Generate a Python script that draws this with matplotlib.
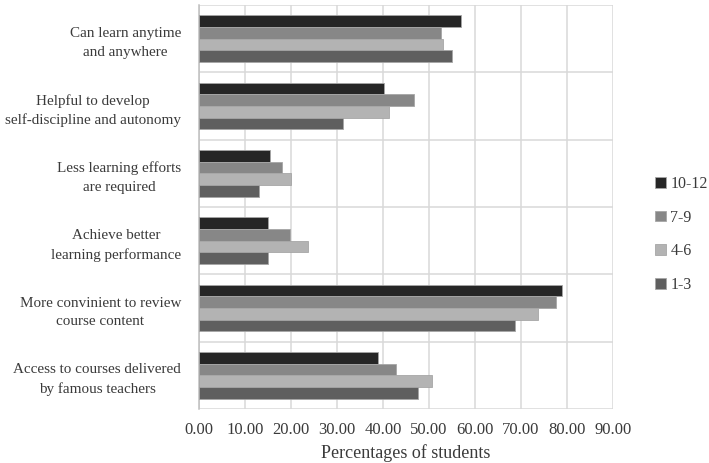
import matplotlib
matplotlib.use("Agg")
import matplotlib.pyplot as plt
import numpy as np

categories = [
    "Can learn anytime\nand anywhere",
    "Helpful to develop\nself-discipline and autonomy",
    "Less learning efforts\nare required",
    "Achieve better\nlearning performance",
    "More convinient to review\ncourse content",
    "Access to courses delivered\nby famous teachers",
]
series_names = ["10-12", "7-9", "4-6", "1-3"]
v_10_12 = [57.0, 40.3, 15.4, 14.9, 78.9, 39.0]
v_7_9 = [52.6, 46.8, 18.0, 19.7, 77.7, 42.8]
v_4_6 = [53.1, 41.3, 19.9, 23.7, 73.6, 50.6]
v_1_3 = [55.0, 31.4, 13.1, 15.1, 68.8, 47.7]
series_values = [v_10_12, v_7_9, v_4_6, v_1_3]
colors = ["#262626", "#878787", "#b3b3b3", "#5f5f5f"]
xticks = [0, 10, 20, 30, 40, 50, 60, 70, 80, 90]

plt.rcParams["font.family"] = ["Liberation Serif", "DejaVu Serif"]
text_color = "#3a3a3a"

fig = plt.figure(figsize=(7.09, 4.63), dpi=100)
ax = fig.add_axes([0.2807, 0.1166, 0.8646 - 0.2807, 0.989 - 0.1166])

y = np.arange(len(categories))
h = 0.173
for i, (name, vals, c) in enumerate(zip(series_names, series_values, colors)):
    ax.barh(y + (i - 1.5) * h, vals, height=h, color=c, edgecolor="#a6a6a6",
            linewidth=0.6, label=name, zorder=3)

ax.set_xlim(0, 90)
ax.set_ylim(len(categories) - 0.5, -0.5)
ax.set_xticks(xticks)
ax.set_xticklabels([f"{t:.2f}" for t in xticks], fontsize=12, color=text_color)
ax.set_yticks(y)
ax.set_yticklabels(categories, fontsize=10.9, color=text_color,
                   multialignment="center", linespacing=1.55)
ax.tick_params(axis="x", length=0, pad=9)
ax.tick_params(axis="y", length=0, pad=13)

ax.grid(axis="x", color="#d9d9d9", linewidth=1.1, zorder=0)
for b in np.arange(-0.5, len(categories), 1.0):
    ax.axhline(b, color="#d9d9d9", linewidth=1.1, zorder=1)
for s in ["top", "right", "bottom"]:
    ax.spines[s].set_visible(False)
ax.spines["left"].set_color("#bfbfbf")
ax.spines["left"].set_linewidth(1.1)

ax.set_xlabel("Percentages of students", fontsize=13, color=text_color, labelpad=5)

leg = fig.legend(loc="center left", bbox_to_anchor=(0.915, 0.4935), frameon=False,
                 fontsize=11.5, handlelength=0.65, handleheight=0.65, handletextpad=0.3,
                 labelspacing=1.1, borderaxespad=0)
for t in leg.get_texts():
    t.set_color(text_color)

fig.savefig("out.png", dpi=100)
